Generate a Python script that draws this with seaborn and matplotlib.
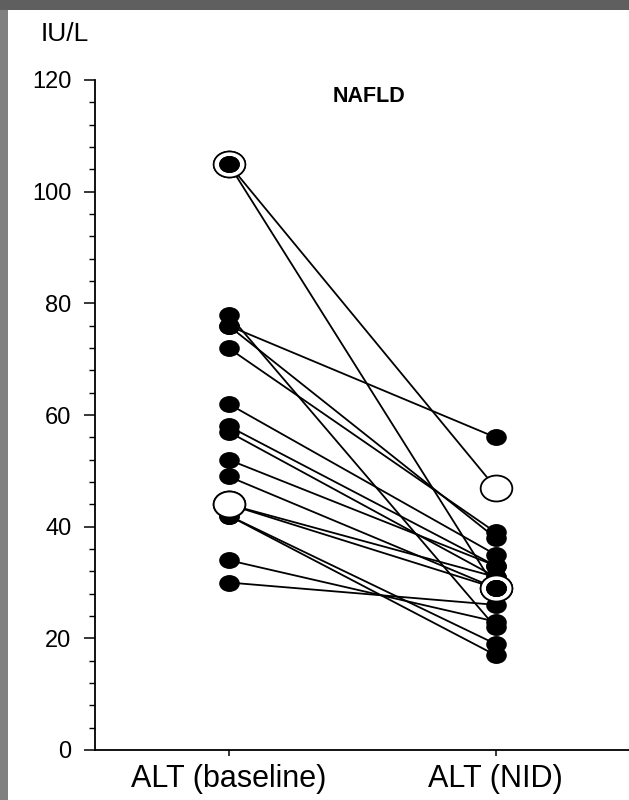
import numpy as np
import pandas as pd
import matplotlib
matplotlib.use("Agg")
import matplotlib.pyplot as plt
import seaborn as sns
from matplotlib.path import Path
from matplotlib.ticker import MultipleLocator
from matplotlib.patches import Rectangle

# ---- data ----
categories = ["ALT (baseline)", "ALT (NID)"]
alt_baseline = [105, 105, 78, 76, 76, 72, 62, 58, 57, 52, 49, 44, 44, 42, 42, 34, 30]
alt_nid      = [47,  29,  22, 56, 38, 39, 35, 33, 31, 33, 29, 29, 31, 19, 17, 23, 26]
style_baseline = ["ring", "ring", "filled", "filled", "filled", "filled", "filled", "filled",
                  "filled", "filled", "filled", "open", "open", "filled", "filled", "filled", "filled"]
style_nid = ["open", "ring", "filled", "filled", "filled", "filled", "filled", "filled",
             "filled", "filled", "ring", "ring", "filled", "filled", "filled", "filled", "filled"]
y_ticks = [0, 20, 40, 60, 80, 100, 120]
unit_label = "IU/L"
panel_title = "NAFLD"

rows = []
for i, (b, n) in enumerate(zip(alt_baseline, alt_nid)):
    rows.append(dict(patient=i, pos=0, value=b, kind=style_baseline[i]))
    rows.append(dict(patient=i, pos=1, value=n, kind=style_nid[i]))
df = pd.DataFrame(rows)

plt.rcParams["font.family"] = ["Liberation Sans", "DejaVu Sans"]

fig = plt.figure(figsize=(6.29, 8.0), dpi=100)
fig.patch.set_facecolor("white")
ax = fig.add_axes([95 / 629, 50 / 800, 534 / 629, 670 / 800])

sns.lineplot(data=df, x="pos", y="value", units="patient", estimator=None,
             color="black", lw=1.3, ax=ax, legend=False, sort=False)

ell = Path(Path.unit_circle().vertices * np.array([1.0, 0.82]), Path.unit_circle().codes)

filled = df[df.kind == "filled"]
sns.scatterplot(data=filled, x="pos", y="value", marker=ell, s=220, color="black",
                edgecolor="black", linewidth=0, ax=ax, zorder=3, legend=False)
rings = df[df.kind == "ring"]
sns.scatterplot(data=rings, x="pos", y="value", marker=ell, s=520, color="white",
                edgecolor="black", linewidth=1.2, ax=ax, zorder=3, legend=False)
sns.scatterplot(data=rings, x="pos", y="value", marker=ell, s=220, color="black",
                edgecolor="black", linewidth=0, ax=ax, zorder=4, legend=False)
opens = df[df.kind == "open"]
sns.scatterplot(data=opens, x="pos", y="value", marker=ell, s=520, color="white",
                edgecolor="black", linewidth=1.3, ax=ax, zorder=5, legend=False)

ax.set_xlim(-0.5, 1.5)
ax.set_ylim(0, 120)
ax.set_xticks([0, 1])
ax.set_xticklabels(categories, fontsize=22)
ax.set_yticks(y_ticks)
ax.set_yticklabels([str(t) for t in y_ticks], fontsize=17)
ax.yaxis.set_minor_locator(MultipleLocator(4))
ax.set_xlabel("")
ax.set_ylabel("")
for s in ["top", "right"]:
    ax.spines[s].set_visible(False)
for s in ["left", "bottom"]:
    ax.spines[s].set_color("black")
    ax.spines[s].set_linewidth(1.3)
ax.tick_params(axis="y", which="major", direction="out", length=8, width=1.1, pad=9)
ax.tick_params(axis="y", which="minor", direction="out", length=4, width=1.0)
ax.tick_params(axis="x", which="major", direction="out", length=4, width=1.1, pad=6)
ax.set_facecolor("white")

ax.text(0.525, 117, panel_title, ha="center", va="center", fontsize=15.5, fontweight="bold")
fig.text(41 / 629, 1 - 34 / 800, unit_label, ha="left", va="center", fontsize=19)

# dark frame on left and top
fig.patches.append(Rectangle((0, 0), 8 / 629, 1, transform=fig.transFigure,
                             facecolor="#808080", edgecolor="none", zorder=10))
fig.patches.append(Rectangle((0, 1 - 10 / 800), 1, 10 / 800, transform=fig.transFigure,
                             facecolor="#5f5f5f", edgecolor="none", zorder=10))

fig.savefig("out.png", dpi=100)
